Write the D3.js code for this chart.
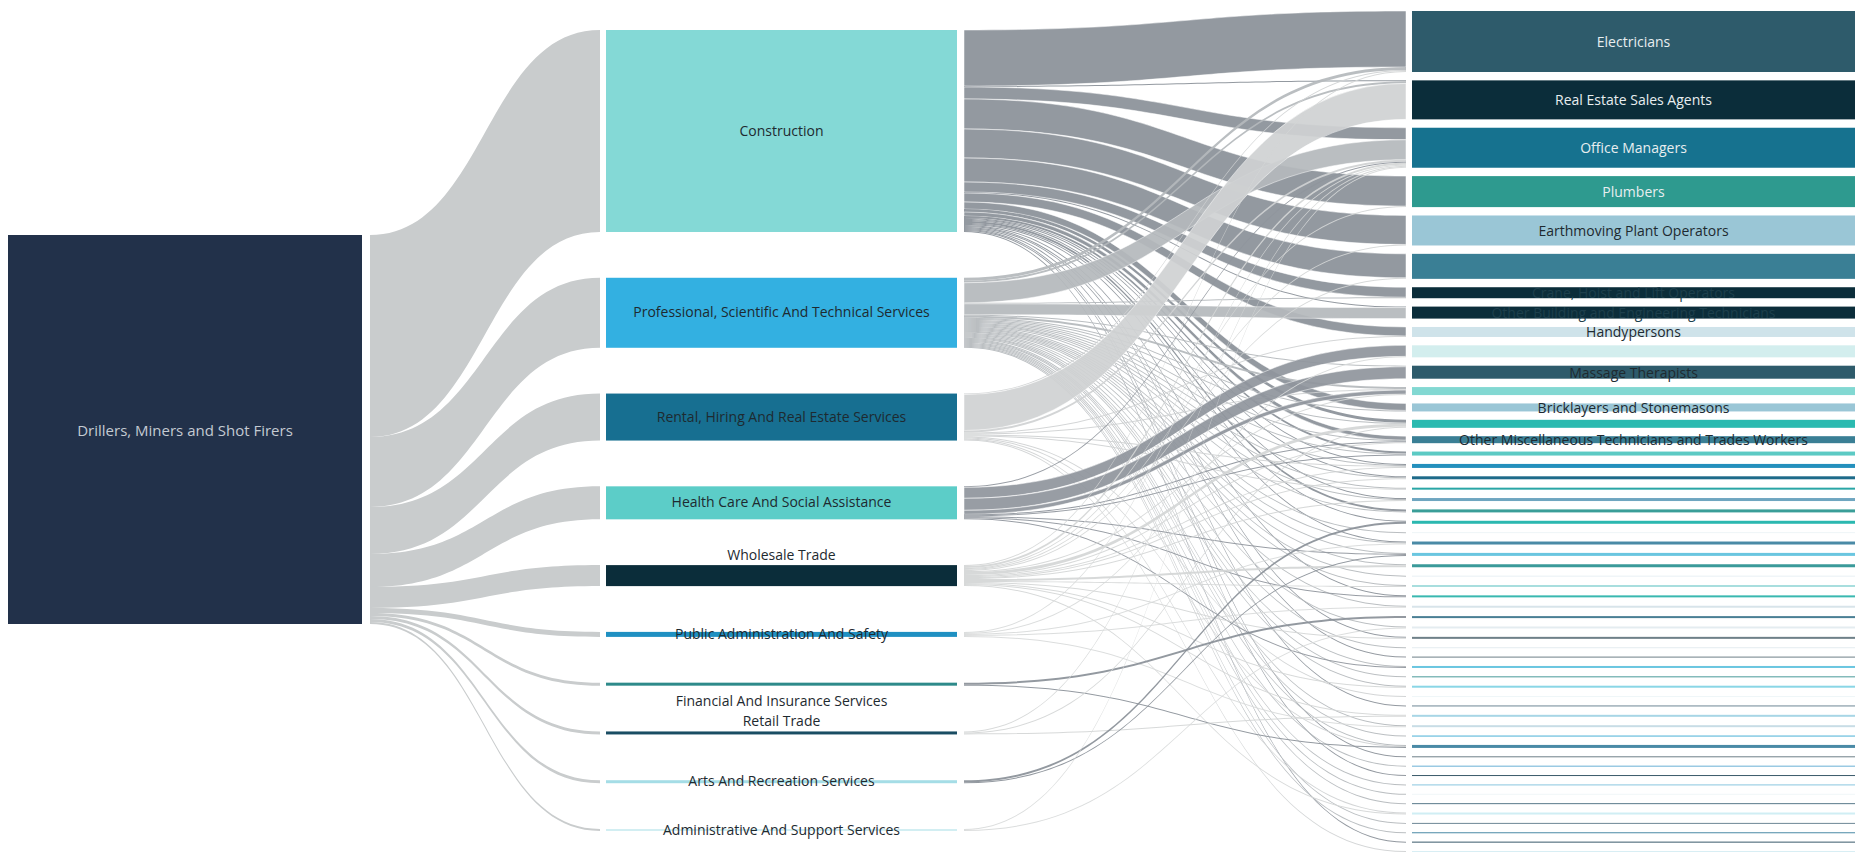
<!DOCTYPE html>
<html>
<head>
<meta charset="utf-8">
<script src="https://cdn.jsdelivr.net/npm/d3@7"></script>
<style>
body { margin: 0; background: #fff; }
svg { display: block; }
text { font-family: "Open Sans", Lato, sans-serif; font-size: 14px; }
</style>
</head>
<body>
<svg width="1861" height="864"></svg>
<script>
// canvas
const width = 1861
const height = 864

// source occupation (left column)
const origin = "Drillers, Miners and Shot Firers"

// industries (middle column)
const industries = [
  "Construction",
  "Professional, Scientific And Technical Services",
  "Rental, Hiring And Real Estate Services",
  "Health Care And Social Assistance",
  "Wholesale Trade",
  "Public Administration And Safety",
  "Financial And Insurance Services",
  "Retail Trade",
  "Arts And Recreation Services",
  "Administrative And Support Services"
]
const industryColors = ["#84d9d6", "#33b0e1", "#176f91", "#5ccdc8", "#0b2d3a",
  "#1f90c2", "#2e8a8a", "#1a4d63", "#a5dde6", "#d2eef2"]
// where the industry label sits relative to its bar
const industryLabelAt = ["mid", "mid", "mid", "mid", "above", "mid", "below", "above", "mid", "mid"]

// destination occupations (right column)
const occupations = [
  "Electricians", "Real Estate Sales Agents", "Office Managers", "Plumbers",
  "Earthmoving Plant Operators", "Carpenters and Joiners", "Crane, Hoist and Lift Operators",
  "Other Building and Engineering Technicians", "Handypersons", "Aged and Disabled Carers",
  "Massage Therapists", "Receptionists", "Bricklayers and Stonemasons", "Truck Drivers",
  "Other Miscellaneous Technicians and Trades Workers", "Concreters",
  "Structural Steel and Welding Trades Workers", "Metal Fitters and Machinists",
  "Surveyors and Spatial Scientists", "Painting Trades Workers", "Building and Plumbing Labourers",
  "Fitness Instructors", "Accountants", "Security Officers and Guards",
  "Sports Coaches, Instructors and Officials", "Storepersons", "Civil Engineering Professionals",
  "Sales Representatives", "Nursing Support and Personal Care Workers",
  "Contract, Program and Project Administrators", "Insurance Agents", "General Clerks",
  "Forklift Drivers", "Engineering Professionals", "Fencers", "Physiotherapists",
  "Drafting Technicians", "Delivery Drivers", "Property Managers", "Glaziers", "Sales Assistants",
  "Emergency Service Workers", "Mining Engineers", "Bookkeepers", "Plasterers", "Geologists",
  "Roof Tilers", "Environmental Scientists", "Management Consultants", "Gardeners",
  "Purchasing and Supply Logistics Clerks", "ICT Support Technicians", "Production Managers",
  "Wall and Floor Tilers", "Cleaners"
]
const occupationColors = [
  "#2e5b6b", "#0b2d3a", "#16728f", "#2e9a8f", "#9ac6d6", "#3a7f95", "#0b2d3a", "#0b2d3a",
  "#cfe3ea", "#d3eeee", "#2e5b6b", "#82d8d2", "#9ac6d6", "#2bbab0", "#3a7f95", "#5ccac4",
  "#2490bd", "#1e6b8a", "#2aa6a6", "#6fa6c0", "#3a9e98", "#2bb8b0", "#eef5f7", "#4a8aa6",
  "#6ac6e0", "#3a9a9a", "#e8f0f4", "#a8dede", "#3ab8b0", "#d8e4ea", "#4a7f94", "#e4ecf0",
  "#6e8088", "#e4ecf0", "#6e8088", "#6ac6e0", "#4a9a9a", "#8ad6e6", "#eef6f8", "#6e8896",
  "#a8d6e6", "#c8dde6", "#4ab0d6", "#4a8aa6", "#6e8088", "#6ab0d6", "#3a5a6a", "#8ac6e0",
  "#f0f6f8", "#5a7a8a", "#d0eef4", "#6e8896", "#4a8aa6", "#3a5a6a", "#d8eef4"
]
// only these occupation labels are shown (the others are hidden like in the original)
const shownLabels = {
  "Electricians": "#e8eef0",
  "Real Estate Sales Agents": "#e8eef0",
  "Office Managers": "#e8eef0",
  "Plumbers": "#e8eef0",
  "Earthmoving Plant Operators": "#1e2a30",
  "Crane, Hoist and Lift Operators": "#1d3f4c",
  "Other Building and Engineering Technicians": "#1d3f4c",
  "Handypersons": "#1e2a30",
  "Massage Therapists": "#1e2a30",
  "Bricklayers and Stonemasons": "#1e2a30",
  "Other Miscellaneous Technicians and Trades Workers": "#1e2a30"
}

// flows industry -> occupation, as [occupation index, workers]
const construction = [[0,56],[1,1],[2,12],[3,30],[4,29],[5,24],[6,10],[7,1],[8,9],[12,7],[13,3],
  [14,4],[15,2],[16,1],[17,1],[19,1],[20,2],[21,1],[23,1],[28,1],[32,1],[34,1],[39,1],[44,1],[46,1],[53,1]]
const professional = [[0,3],[1,2],[2,20],[6,1],[7,11],[10,1],[11,2],[12,1],[13,1],[14,1],[15,1],
  [16,1],[17,1],[18,1],[19,1],[20,1],[22,1],[23,1],[24,1],[25,1],[26,1],[27,1],[29,1],[31,1],[33,1],
  [35,1],[36,1],[37,1],[41,1],[42,1],[43,1],[45,1],[47,1],[48,1],[49,1],[51,1],[52,1]]
const rental = [[0,1],[1,36],[2,2],[8,1],[11,1],[16,1],[18,1],[38,1],[43,1],[50,1],[54,1]]
const healthCare = [[2,1],[9,11],[10,12],[11,4],[14,1],[15,1],[24,1],[28,1],[35,1]]
const wholesale = [[0,1],[2,2],[3,1],[4,1],[5,1],[11,1],[13,3],[14,1],[16,1],[17,1],[19,1],[25,2],
  [27,1],[32,1],[37,1],[40,1],[50,1]]
const publicAdmin = [[2,1],[9,1],[23,1],[29,1],[41,1]]
const financial = [[30,2],[43,1]]
const retail = [[2,1],[13,1],[40,1]]
const arts = [[21,2],[24,1]]
const adminSupport = [[2,1],[31,1]]

const flowsByIndustry = [construction, professional, rental, healthCare, wholesale,
  publicAdmin, financial, retail, arts, adminSupport]

// grey shade of the ribbons leaving each industry
const linkColors = ["#8a9098", "#b4b8bc", "#cfd1d2", "#8f959c", "#d4d6d6",
  "#d8dada", "#8a9098", "#d4d6d6", "#8a9098", "#d8dada"]
const originLinkColor = "#c9cccd"

var svg = d3.select(document.getElementsByTagName('svg')[0])

// column geometry
const cols = {
  left:  {x0: 8,    x1: 362, top: 235, bottom: 624},
  mid:   {x0: 606,  x1: 957, top: 30,  bottom: 831},
  right: {x0: 1412, x1: 1855, top: 11, bottom: 852}
}
const linkGap = 7

var links = []
flowsByIndustry.forEach(function(list, s){
  list.forEach(function(f){ links.push({s: s, t: f[0], value: f[1]}) })
})
var total = d3.sum(links, d => d.value)
var k = d3.scaleLinear().domain([0, total]).range([0, cols.left.bottom - cols.left.top])

var midNodes = industries.map(function(name, i){
  return {name: name, value: d3.sum(links.filter(l => l.s == i), l => l.value), color: industryColors[i]}
})
var rightNodes = occupations.map(function(name, i){
  return {name: name, value: d3.sum(links.filter(l => l.t == i), l => l.value), color: occupationColors[i]}
})

// stack nodes of one column with even padding between them
function stack(nodes, col){
  var h = d3.sum(nodes, n => k(n.value))
  var pad = (col.bottom - col.top - h) / (nodes.length - 1)
  var y = col.top
  nodes.forEach(function(n){
    n.y0 = y; n.y1 = y + k(n.value); y = n.y1 + pad
  })
}
stack(midNodes, cols.mid)
stack(rightNodes, cols.right)

// ribbon with constant vertical thickness
function band(x0, a0, b0, x1, a1, b1){
  var xm = (x0 + x1) / 2
  return "M" + x0 + "," + a0 + "C" + xm + "," + a0 + " " + xm + "," + a1 + " " + x1 + "," + a1 +
    "L" + x1 + "," + b1 + "C" + xm + "," + b1 + " " + xm + "," + b0 + " " + x0 + "," + b0 + "Z"
}

// left ribbons
var yl = cols.left.top
midNodes.forEach(function(n){
  var h = k(n.value)
  n.inPath = band(cols.left.x1 + 8, yl, yl + h, cols.mid.x0 - 6, n.y0, n.y1)
  yl += h
})
svg.append('g').selectAll('path')
  .data(midNodes)
  .enter().append('path')
  .attr('d', d => d.inPath)
  .style('fill', originLinkColor)

// right ribbons: stacked by target order at the source, by source order at the target
midNodes.forEach(n => n.off = n.y0)
rightNodes.forEach(n => n.off = n.y0)
links.sort((a, b) => a.s - b.s || a.t - b.t)
links.forEach(function(l){
  var h = k(l.value)
  var src = midNodes[l.s], tgt = rightNodes[l.t]
  l.sy = src.off; src.off += h
  l.ty = tgt.off; tgt.off += h
  l.h = h
})

svg.append('g').selectAll('path')
  .data(links)
  .enter().append('path')
  .attr('d', d => band(cols.mid.x1 + linkGap, d.sy, d.sy + d.h, cols.right.x0 - 6, d.ty, d.ty + d.h))
  .style('fill', d => linkColors[d.s])
  .style('fill-opacity', 0.92)
  .style('stroke', d => d.h > 3 ? '#fff' : 'none')
  .style('stroke-width', 0.5)

// nodes
svg.append('rect')
  .attr('x', cols.left.x0).attr('y', cols.left.top)
  .attr('width', cols.left.x1 - cols.left.x0).attr('height', cols.left.bottom - cols.left.top)
  .style('fill', '#22314a')
svg.append('text')
  .attr('x', (cols.left.x0 + cols.left.x1) / 2)
  .attr('y', (cols.left.top + cols.left.bottom) / 2)
  .attr('text-anchor', 'middle').attr('dominant-baseline', 'central')
  .style('fill', '#c4cad2')
  .style('font-size', '15px')
  .text(origin)

svg.append('g').selectAll('rect')
  .data(midNodes)
  .enter().append('rect')
  .attr('x', cols.mid.x0).attr('y', d => d.y0)
  .attr('width', cols.mid.x1 - cols.mid.x0)
  .attr('height', d => Math.max(1, d.y1 - d.y0))
  .style('fill', d => d.color)

svg.append('g').selectAll('rect')
  .data(rightNodes)
  .enter().append('rect')
  .attr('x', cols.right.x0).attr('y', d => d.y0)
  .attr('width', cols.right.x1 - cols.right.x0)
  .attr('height', d => Math.max(1, d.y1 - d.y0))
  .style('fill', d => d.color)

// labels
svg.append('g').selectAll('text')
  .data(midNodes)
  .enter().append('text')
  .attr('x', (cols.mid.x0 + cols.mid.x1) / 2)
  .attr('y', function(d, i){
    if(industryLabelAt[i] == 'above') return d.y0 - 11
    if(industryLabelAt[i] == 'below') return d.y1 + 15
    return (d.y0 + d.y1) / 2 - 1
  })
  .attr('text-anchor', 'middle').attr('dominant-baseline', 'central')
  .style('fill', '#1e2a30')
  .text(d => d.name)

svg.append('g').selectAll('text')
  .data(rightNodes.filter(d => shownLabels[d.name]))
  .enter().append('text')
  .attr('x', (cols.right.x0 + cols.right.x1) / 2)
  .attr('y', d => (d.y0 + d.y1) / 2)
  .attr('text-anchor', 'middle').attr('dominant-baseline', 'central')
  .style('fill', d => shownLabels[d.name])
  .text(d => d.name)
</script>
</body>
</html>
